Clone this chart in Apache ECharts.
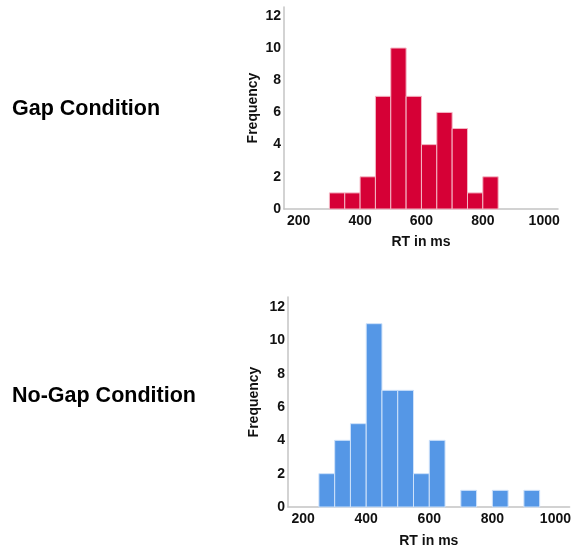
<!DOCTYPE html>
<html>
<head>
<meta charset="utf-8">
<script src="https://cdn.jsdelivr.net/npm/echarts@6/dist/echarts.min.js"></script>
<style>
html,body{margin:0;padding:0;background:#fff;}
#main{width:574px;height:550px;}
</style>
</head>
<body>
<div id="main"></div>
<script>
// Data
var binWidth = 50;
var gapBinStarts = [300, 350, 400, 450, 500, 550, 600, 650, 700, 750, 800];
var gapCounts    = [1, 1, 2, 7, 10, 7, 4, 6, 5, 1, 2];
var noGapBinStarts = [250, 300, 350, 400, 450, 500, 550, 600, 650, 700, 750, 800, 850, 900];
var noGapCounts    = [2, 4, 5, 11, 7, 7, 2, 4, 0, 1, 0, 1, 0, 1];
var xTickLabels = [200, 400, 600, 800, 1000];
var yTickLabels = [0, 2, 4, 6, 8, 10, 12];
var panelTitles = ['Gap Condition', 'No-Gap Condition'];
var xAxisName = 'RT in ms';
var yAxisName = 'Frequency';

var chart = echarts.init(document.getElementById('main'), null, {renderer: 'canvas'});

function histData(starts, counts) {
  return starts.map(function (s, i) { return [s, s + binWidth, counts[i]]; });
}

function renderBar(params, api) {
  var x0 = api.value(0), x1 = api.value(1), y = api.value(2);
  if (!y) return null;
  var p0 = api.coord([x0, y]);
  var p1 = api.coord([x1, 0]);
  return {
    type: 'rect',
    shape: {x: p0[0], y: p0[1], width: p1[0] - p0[0], height: p1[1] - p0[1]},
    style: api.style()
  };
}

var labelStyle = {color: '#111', fontWeight: 'bold', fontSize: 14, fontFamily: 'Liberation Sans, Arial, sans-serif'};
var axisLineStyle = {color: '#c4c4c4', width: 1.5};

function xAxis(gi, nameGap) {
  return {
    type: 'value', gridIndex: gi, min: 152, max: 1045,
    axisLine: {show: true, lineStyle: axisLineStyle},
    axisTick: {show: false},
    splitLine: {show: false},
    axisLabel: Object.assign({customValues: xTickLabels, margin: 5, formatter: function (v) { return String(v); }}, labelStyle),
    name: xAxisName, nameLocation: 'middle', nameGap: nameGap,
    nameTextStyle: labelStyle
  };
}
function yAxis(gi, max, nameGap) {
  return {
    type: 'value', gridIndex: gi, min: 0, max: max,
    axisLine: {show: true, lineStyle: axisLineStyle},
    axisTick: {show: false},
    splitLine: {show: false},
    axisLabel: Object.assign({customValues: yTickLabels, margin: 3}, labelStyle),
    name: yAxisName, nameLocation: 'middle', nameGap: nameGap,
    nameTextStyle: labelStyle
  };
}

chart.setOption({
  animation: false,
  backgroundColor: '#fff',
  grid: [
    {left: 284, top: 7, width: 274, height: 202},
    {left: 288, top: 297, width: 284, height: 210}
  ],
  xAxis: [xAxis(0, 26), xAxis(1, 27)],
  yAxis: [yAxis(0, 12.55, 24), yAxis(1, 12.6, 27)],
  graphic: [
    {type: 'text', left: 12, top: 98, style: {text: panelTitles[0], fill: '#000', font: 'bold 21.5px "Liberation Sans", Arial, sans-serif'}},
    {type: 'text', left: 12, top: 385, style: {text: panelTitles[1], fill: '#000', font: 'bold 21.5px "Liberation Sans", Arial, sans-serif'}}
  ],
  series: [
    {
      type: 'custom', xAxisIndex: 0, yAxisIndex: 0,
      renderItem: renderBar,
      itemStyle: {color: '#D60036', borderColor: '#f4b6c4', borderWidth: 1},
      encode: {x: [0, 1], y: 2},
      data: histData(gapBinStarts, gapCounts)
    },
    {
      type: 'custom', xAxisIndex: 1, yAxisIndex: 1,
      renderItem: renderBar,
      itemStyle: {color: '#5597E6', borderColor: '#cfe2fa', borderWidth: 1},
      encode: {x: [0, 1], y: 2},
      data: histData(noGapBinStarts, noGapCounts)
    }
  ]
});
</script>
</body>
</html>
